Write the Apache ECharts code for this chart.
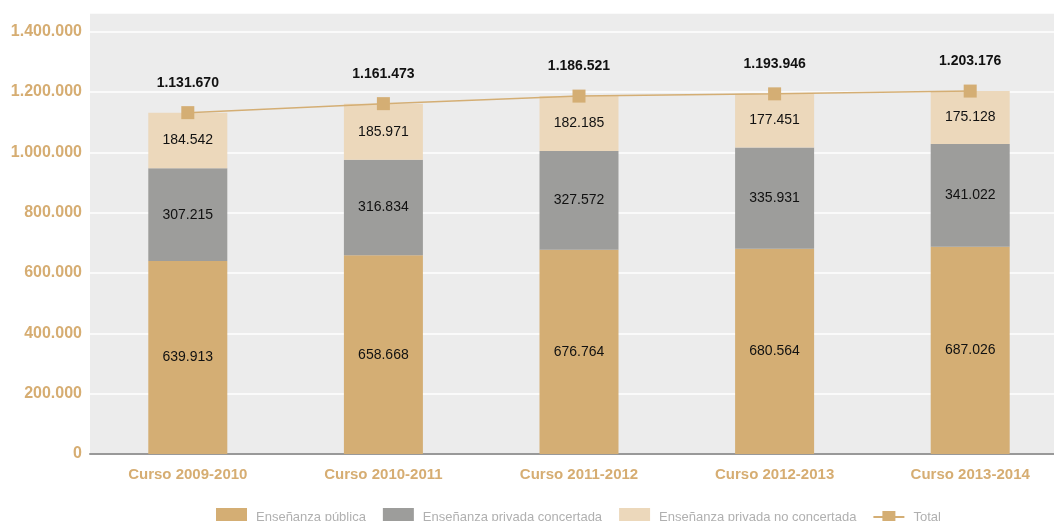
<!DOCTYPE html>
<html>
<head>
<meta charset="utf-8">
<script src="https://cdn.jsdelivr.net/npm/echarts@6/dist/echarts.min.js"></script>
<style>
html, body { margin: 0; padding: 0; background: #fff; }
#chart { width: 1054px; height: 521px; }
</style>
</head>
<body>
<div id="chart"></div>
<script>
// datos
var cursos = ['Curso 2009-2010', 'Curso 2010-2011', 'Curso 2011-2012', 'Curso 2012-2013', 'Curso 2013-2014'];
var publica = [639913, 658668, 676764, 680564, 687026];
var concertada = [307215, 316834, 327572, 335931, 341022];
var noConcertada = [184542, 185971, 182185, 177451, 175128];
var total = [1131670, 1161473, 1186521, 1193946, 1203176];

function puntos(v) {
	return String(v).replace(/\B(?=(\d{3})+(?!\d))/g, '.');
}

var myChart = echarts.init(document.getElementById('chart'));

var barLabel = {
	show: true,
	position: 'inside',
	color: '#111',
	fontSize: 14,
	formatter: function (p) { return puntos(p.value); }
};

option = {
	animation: false,
	textStyle: { fontFamily: 'Liberation Sans, Arial, sans-serif' },
	grid: {
		left: 90,
		width: 978,
		top: 13,
		bottom: 67,
		outerBoundsMode: 'none',
		show: true,
		backgroundColor: '#ececec',
		borderWidth: 0
	},
	legend: {
		left: 211,
		top: 503,
		itemWidth: 31,
		itemHeight: 18,
		itemGap: 17,
		icon: 'rect',
		textStyle: { color: '#b0b0b0', fontSize: 13, padding: [0, 0, 0, 4] },
		data: ['Enseñanza pública', 'Enseñanza privada concertada', 'Enseñanza privada no concertada',
			{ name: 'Total', icon: 'path://M0,8 L9,8 L9,3 L22,3 L22,8 L31,8 L31,10 L22,10 L22,15 L9,15 L9,10 L0,10 Z' }]
	},
	xAxis: {
		type: 'category',
		data: cursos,
		axisLine: { lineStyle: { color: '#999', width: 2 } },
		axisTick: { inside: true, length: 11, lineStyle: { color: '#999' } },
		axisLabel: {
			color: '#d6ad72',
			fontWeight: 700,
			fontSize: 15,
			margin: 13
		}
	},
	yAxis: {
		type: 'value',
		min: 0,
		max: 1462000,
		interval: 200000,
		axisLine: { show: false },
		axisTick: { show: false },
		splitLine: { lineStyle: { color: '#ffffff', width: 1.5 } },
		axisLabel: {
			color: '#d6ad72',
			fontWeight: 700,
			fontSize: 16,
			margin: 8,
			showMaxLabel: false,
			formatter: function (v) { return puntos(v); }
		}
	},
	series: [
		{
			name: 'Enseñanza pública',
			type: 'bar',
			stack: 'a',
			barWidth: 79,
			itemStyle: { color: '#d4ae74' },
			label: barLabel,
			data: publica
		},
		{
			name: 'Enseñanza privada concertada',
			type: 'bar',
			stack: 'a',
			barWidth: 79,
			itemStyle: { color: '#9d9d9b' },
			label: barLabel,
			data: concertada
		},
		{
			name: 'Enseñanza privada no concertada',
			type: 'bar',
			stack: 'a',
			barWidth: 79,
			itemStyle: { color: '#ecd8bb' },
			label: barLabel,
			data: noConcertada
		},
		{
			name: 'Total',
			type: 'line',
			z: 5,
			symbol: 'rect',
			symbolSize: 13,
			itemStyle: { color: '#d4ae74' },
			lineStyle: { color: '#d4ae74', width: 1.5 },
			label: {
				show: true,
				position: 'top',
				distance: 16,
				color: '#111',
				fontWeight: 'bold',
				fontSize: 14,
				formatter: function (p) { return puntos(p.value); }
			},
			data: total
		}
	]
};

myChart.setOption(option);
</script>
</body>
</html>
